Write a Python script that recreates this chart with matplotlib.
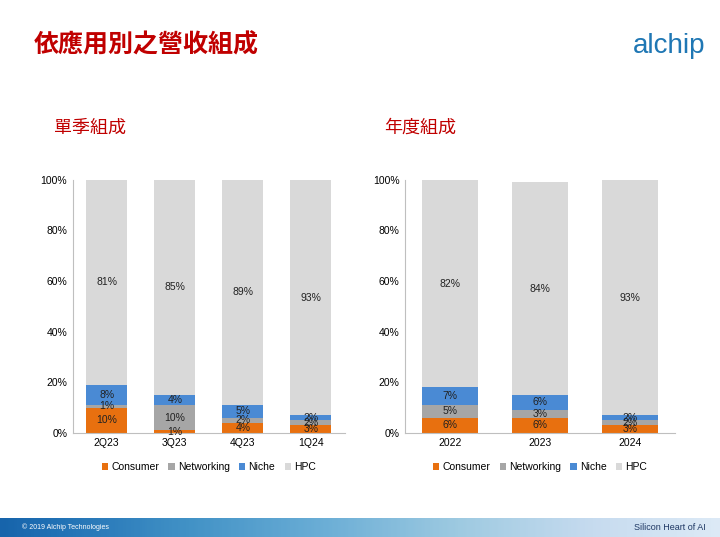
import matplotlib
matplotlib.use("Agg")
import matplotlib.pyplot as plt
import numpy as np

plt.rcParams["font.family"] = "Liberation Sans"
CJK = "Noto Sans CJK JP"

# ---- data ------------------------------------------------------------------
series = ["Consumer", "Networking", "Niche", "HPC"]
colors = ["#E8700F", "#A6A6A6", "#4A8AD4", "#D9D9D9"]

q_labels = ["2Q23", "3Q23", "4Q23", "1Q24"]
q_consumer = [10, 1, 4, 3]
q_network = [1, 10, 2, 2]
q_niche = [8, 4, 5, 2]
q_hpc = [81, 85, 89, 93]

y_labels = ["2022", "2023", "2024"]
y_consumer = [6, 6, 3]
y_network = [5, 3, 2]
y_niche = [7, 6, 2]
y_hpc = [82, 84, 93]

RED = "#C00000"

fig = plt.figure(figsize=(7.2, 5.37), dpi=100)
fig.patch.set_facecolor("white")


def stacked(ax, labels, vals, width):
    x = np.arange(len(labels))
    bottom = np.zeros(len(labels))
    for s, v, c in zip(series, vals, colors):
        v = np.array(v, float)
        ax.bar(x, v, width, bottom=bottom, color=c, label=s, zorder=2)
        for xi, b, vi in zip(x, bottom, v):
            ax.text(xi, b + vi / 2, f"{int(vi)}%", ha="center", va="center",
                    fontsize=7.5, color="#222222", zorder=3)
        bottom += v
    ax.set_xlim(-0.5, len(labels) - 0.5)
    ax.set_ylim(0, 100)
    ax.set_xticks(x)
    ax.set_xticklabels(labels, fontsize=7.5)
    ax.set_yticks(range(0, 101, 20))
    ax.set_yticklabels([f"{t}%" for t in range(0, 101, 20)], fontsize=7.5)
    for sp in ("top", "right"):
        ax.spines[sp].set_visible(False)
    ax.spines["left"].set_color("#BFBFBF")
    ax.spines["bottom"].set_color("#BFBFBF")
    ax.tick_params(length=0, pad=4)
    ax.legend(loc="upper center", bbox_to_anchor=(0.5, -0.08), ncol=4,
              frameon=False, fontsize=7.5, handlelength=0.6, handleheight=0.6,
              columnspacing=0.9, handletextpad=0.3)


ax1 = fig.add_axes((0.101, 0.194, 0.378, 0.471))
stacked(ax1, q_labels, [q_consumer, q_network, q_niche, q_hpc], 0.6)
ax2 = fig.add_axes((0.5625, 0.194, 0.375, 0.471))
stacked(ax2, y_labels, [y_consumer, y_network, y_niche, y_hpc], 0.62)

fig.text(0.047, 0.915, "依應用別之營收組成", fontsize=18, color=RED,
         fontweight="bold", va="center", family=CJK)
fig.text(0.075, 0.762, "單季組成", fontsize=13, color=RED, va="center", family=CJK)
fig.text(0.533, 0.762, "年度組成", fontsize=13, color=RED, va="center", family=CJK)
fig.text(0.98, 0.915, "alchip", fontsize=20, color="#1F77B4", ha="right",
         va="center")

# footer band
band = fig.add_axes((0, 0, 1, 0.036))
band.imshow(np.linspace(0, 1, 256)[None, :], cmap="Blues_r", aspect="auto",
            extent=(0, 1, 0, 1), vmin=-0.3, vmax=1.2)
band.axis("off")
fig.text(0.03, 0.018, "© 2019 Alchip Technologies", fontsize=5, color="white",
         va="center")
fig.text(0.98, 0.018, "Silicon Heart of AI", fontsize=6.5, color="#1F3864",
         va="center", ha="right")

fig.savefig("out.png", dpi=100)
